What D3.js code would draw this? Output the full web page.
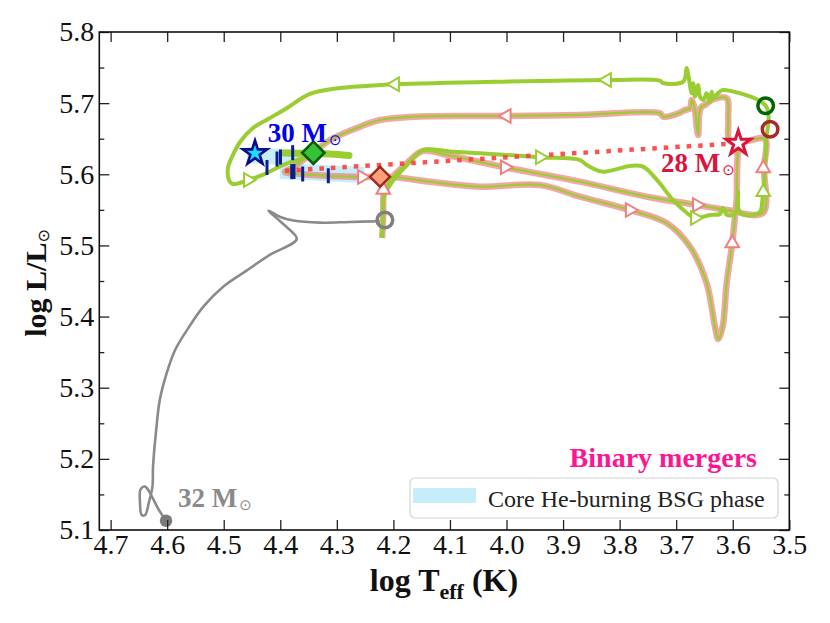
<!DOCTYPE html>
<html>
<head>
<meta charset="utf-8">
<script src="https://cdn.jsdelivr.net/npm/d3@7"></script>
<style>
  body { margin: 0; background: #fff; }
  text { font-family: "Liberation Serif", "DejaVu Serif", serif; }
</style>
</head>
<body>
<svg id="chart"></svg>
<script>
// ---- data (log Teff, log L) ----
var xTicks = [4.7, 4.6, 4.5, 4.4, 4.3, 4.2, 4.1, 4.0, 3.9, 3.8, 3.7, 3.6, 3.5]
var yTicks = [5.1, 5.2, 5.3, 5.4, 5.5, 5.6, 5.7, 5.8]
var yMinorTicks = [5.15, 5.25, 5.35, 5.45, 5.55, 5.65, 5.75]

// primary, 32 Msun, up to the merger
var greyTrack = [[4.602,5.113],[4.616,5.130],[4.627,5.147],[4.639,5.161],[4.647,5.157],[4.648,5.138],
  [4.645,5.121],[4.639,5.121],[4.632,5.140],[4.626,5.161],[4.625,5.189],[4.620,5.236],[4.613,5.283],
  [4.601,5.320],[4.586,5.353],[4.565,5.381],[4.536,5.414],[4.501,5.442],[4.459,5.465],[4.418,5.487],
  [4.371,5.509],[4.389,5.526],[4.406,5.538],[4.421,5.549],[4.400,5.540],[4.377,5.535],[4.330,5.532],
  [4.277,5.533],[4.224,5.534]]

// merger product, 30 Msun
var greenTrack = [[4.220,5.5105],[4.218,5.5428],[4.217,5.568],[4.2025,5.589],[4.1795,5.610],[4.1477,5.634],
  [4.100,5.632],[4.047,5.6295],[3.9408,5.624],[3.870,5.620],[3.858,5.613],[3.8295,5.6037],[3.782,5.6117],
  [3.7587,5.6107],[3.734,5.592],[3.7057,5.5639],[3.681,5.5456],[3.6668,5.5386],[3.640,5.5428],[3.6226,5.5442],
  [3.6173,5.5526],[3.610,5.5428],[3.5943,5.5456],[3.5908,5.5751],[3.5872,5.5456],[3.5643,5.5428],[3.5519,5.547],
  [3.5466,5.5737],[3.543,5.6061],[3.5413,5.644],[3.5413,5.696],[3.6173,5.7185],[3.6208,5.7175],[3.635,5.7091],
  [3.6373,5.7161],[3.6403,5.7021],[3.6461,5.7139],[3.6521,5.7045],[3.658,5.7091],[3.661,5.7255],[3.6668,5.7091],
  [3.6698,5.7279],[3.6726,5.7139],[3.6786,5.7396],[3.6815,5.7494],[3.6875,5.7302],[3.7234,5.7283],[3.7287,5.7316],
  [3.8224,5.7326],[4.1972,5.7265],[4.2237,5.7255],[4.2944,5.7213],[4.3475,5.7129],[4.3881,5.6932],[4.4182,5.6791],
  [4.4483,5.6651],[4.4712,5.6454],[4.4854,5.6243],[4.4925,5.6089],[4.4907,5.592],[4.4836,5.5864],[4.4571,5.592],
  [4.4359,5.5976],[4.4235,5.6018],[4.3988,5.6117],[4.3758,5.6187],[4.3475,5.6257]]
var greenTrackEnd = [[4.3934,5.630],[4.3475,5.6293],[4.3121,5.6285],[4.2785,5.6264]]
var greenArrows = [[4.4571,5.592,"right"],[4.1972,5.7265,"left"],[3.8224,5.7326,"left"],
  [3.9408,5.624,"right"],[3.6668,5.5386,"right"],[3.546,5.5751,"up"]]

// merger product, 28 Msun
var pinkTrack = [[4.220,5.5105],[4.218,5.5428],[4.2167,5.5751],[4.206,5.592],[4.1795,5.6131],[4.1477,5.6328],
  [4.1053,5.6271],[4.0027,5.6098],[3.870,5.5896],[3.7517,5.5685],[3.6633,5.5569],[3.610,5.5498],[3.5466,5.5456],
  [3.5448,5.6089],[3.543,5.6496],[3.5749,5.6468],[3.6049,5.6468],[3.6079,5.6763],[3.6108,5.7068],[3.6344,5.7054],
  [3.6491,5.6974],[3.655,5.695],[3.6592,5.6858],[3.661,5.6553],[3.6638,5.6669],[3.6668,5.6904],[3.6726,5.7045],
  [3.6756,5.6928],[3.6845,5.6904],[3.6933,5.6866],[3.7228,5.681],[3.7287,5.6858],[3.870,5.6834],[3.9997,5.682],
  [4.1648,5.681],[4.2237,5.6763],[4.2591,5.6669],[4.3121,5.6482],[4.3356,5.6342],[4.3593,5.6201],[4.3798,5.6084],
  [4.3917,5.6032],[4.3652,5.6004],[4.3121,5.5976],[4.2555,5.5962],[4.2237,5.5962],[4.2007,5.5962],[4.1353,5.5896],
  [4.047,5.5826],[3.9408,5.585],[3.870,5.5685],[3.782,5.5498],[3.7163,5.5311],[3.6756,5.4982],[3.6461,5.4468],
  [3.6314,5.3858],[3.6256,5.3681],[3.6178,5.3858],[3.6108,5.4468],[3.6009,5.503],[3.5961,5.5404],[3.5931,5.5639],
  [3.5925,5.6061],[3.5902,5.6436]]
var pinkArrows = [[4.2179,5.578,"up"],[4.0027,5.6098,"right"],[3.6633,5.5569,"right"],[3.546,5.6085,"up"],
  [3.9997,5.682,"left"],[4.2555,5.5962,"right"],[3.782,5.5498,"right"],[3.6009,5.503,"up"]]

// core He-burning BSG phase segments
var bsgUpper = [[4.4589,5.6271],[4.3652,5.6229]]
var bsgLower = [[4.4005,5.6046],[4.252,5.599]]

// observed BSGs (vertical bars)
var observedBSG = [[4.4235,5.6096],[4.4058,5.6215],[4.3996,5.6243],[4.3781,5.6304],
  [4.3798,5.6037],[4.3758,5.6039],[4.3604,5.6004],[4.3151,5.5979]]

var dottedLink = [[4.3917,5.605],[3.5902,5.6436]]

var cyanStar = [4.4447, 5.6295]
var redStar = [3.5902, 5.6436]
var greenDiamond = [4.3416, 5.6304]
var orangeDiamond = [4.2237, 5.5966]
var greyStart = [4.602, 5.113]
var greyEnd = [4.215, 5.5358]
var greenEnd = [3.5418, 5.6964]
var pinkEnd = [3.534, 5.6633]

// ---- chart ----
var width = 830, height = 623
var svg = d3.select("#chart").attr("width", width).attr("height", height)

var x = d3.scaleLinear().domain([4.72, 3.5]).range([99.3, 789.3])
var y = d3.scaleLinear().domain([5.1, 5.8]).range([530, 32])

var line = d3.line().x(d => x(d[0])).y(d => y(d[1])).curve(d3.curveCatmullRom.alpha(0.5))
var straight = d3.line().x(d => x(d[0])).y(d => y(d[1]))

// BSG bands underneath
;[bsgUpper, bsgLower].forEach(function(seg){
  svg.append("path").attr("d", straight(seg))
     .attr("fill", "none").attr("stroke", "#c6eefa").attr("stroke-width", 16)
})

svg.append("path").attr("d", line(greyTrack))
   .attr("fill", "none").attr("stroke", "#8a8a8a").attr("stroke-width", 2.6)
   .attr("stroke-linejoin", "round")

svg.append("path").attr("d", line(pinkTrack))
   .attr("fill", "none").attr("stroke", "#f08080").attr("stroke-opacity", 0.7)
   .attr("stroke-width", 6.5).attr("stroke-linejoin", "round")
svg.append("path").attr("d", line(pinkTrack))
   .attr("fill", "none").attr("stroke", "#9acd32").attr("stroke-width", 2.2)
   .attr("stroke-linejoin", "round")

svg.append("path").attr("d", line(greenTrack))
   .attr("fill", "none").attr("stroke", "#9acd32").attr("stroke-width", 4)
   .attr("stroke-linejoin", "round")
svg.append("path").attr("d", line(greenTrackEnd))
   .attr("fill", "none").attr("stroke", "#9acd32").attr("stroke-width", 7)
   .attr("stroke-linecap", "round")

svg.append("path").attr("d", straight(dottedLink))
   .attr("fill", "none").attr("stroke", "#ff3d3d").attr("stroke-opacity", 0.9)
   .attr("stroke-width", 4.5).attr("stroke-dasharray", "4.5,7")

svg.selectAll(".bsg").data(observedBSG).enter().append("line")
   .attr("x1", d => x(d[0])).attr("x2", d => x(d[0]))
   .attr("y1", d => y(d[1]) - 7.5).attr("y2", d => y(d[1]) + 7.5)
   .attr("stroke", "#0b1f8c").attr("stroke-width", 3)

// direction triangles
var rot = {up: 0, right: 90, left: -90}
var tri = d3.symbol().type(d3.symbolTriangle).size(80)
function arrows(data, color){
  svg.append("g").selectAll("path").data(data).enter().append("path")
     .attr("d", tri)
     .attr("transform", d => `translate(${x(d[0])},${y(d[1])}) rotate(${rot[d[2]]})`)
     .attr("fill", "#fff").attr("stroke", color).attr("stroke-width", 2)
}
arrows(pinkArrows, "#f08080")
arrows(greenArrows, "#9acd32")

// end / start circles
;[[greyEnd, "#808080"], [greenEnd, "#006400"], [pinkEnd, "#a52a2a"]].forEach(function(c){
  svg.append("circle").attr("cx", x(c[0][0])).attr("cy", y(c[0][1])).attr("r", 7.8)
     .attr("fill", "none").attr("stroke", c[1]).attr("stroke-width", 3.5)
})
svg.append("circle").attr("cx", x(greyStart[0])).attr("cy", y(greyStart[1])).attr("r", 6.2)
   .attr("fill", "#7a7a7a")

// stars and diamonds
var star = d3.symbol().type(d3.symbolStar).size(185)
svg.append("path").attr("d", star).attr("transform", `translate(${x(cyanStar[0])},${y(cyanStar[1])})`)
   .attr("fill", "#16e0ff").attr("stroke", "#0a0a8c").attr("stroke-width", 2.6)
svg.append("path").attr("d", star).attr("transform", `translate(${x(redStar[0])},${y(redStar[1])})`)
   .attr("fill", "#fff").attr("stroke", "#dc143c").attr("stroke-width", 3)

var sq = d3.symbol().type(d3.symbolSquare)
svg.append("path").attr("d", sq.size(250)())
   .attr("transform", `translate(${x(greenDiamond[0])},${y(greenDiamond[1])}) rotate(45)`)
   .attr("fill", "#36c236").attr("stroke", "#0b5d0b").attr("stroke-width", 2.6)
svg.append("path").attr("d", sq.size(200)())
   .attr("transform", `translate(${x(orangeDiamond[0])},${y(orangeDiamond[1])}) rotate(45)`)
   .attr("fill", "#ffa07a").attr("stroke", "#9c2a1e").attr("stroke-width", 2.4)

// ---- axes ----
function styleAxis(g){
  g.select(".domain").remove()
  g.selectAll("line").attr("stroke", "#222").attr("stroke-width", 1.3)
  g.selectAll("text").attr("font-family", "Liberation Serif, serif").attr("font-size", 28).attr("fill", "#111")
}
var fmt = d3.format(".1f")
svg.append("g").attr("transform", "translate(0,530)")
   .call(d3.axisBottom(x).tickValues(xTicks).tickSize(-10).tickPadding(4).tickFormat(fmt)).call(styleAxis)
svg.append("g").attr("transform", "translate(0,32)")
   .call(d3.axisTop(x).tickValues(xTicks).tickSize(-10).tickFormat("")).call(styleAxis)
svg.append("g").attr("transform", "translate(99.3,0)")
   .call(d3.axisLeft(y).tickValues(yTicks).tickSize(-10).tickPadding(5).tickFormat(fmt)).call(styleAxis)
svg.append("g").attr("transform", "translate(99.3,0)")
   .call(d3.axisLeft(y).tickValues(yMinorTicks).tickSize(-5).tickFormat("")).call(styleAxis)
svg.append("g").attr("transform", "translate(789.3,0)")
   .call(d3.axisRight(y).tickValues(yTicks).tickSize(-10).tickFormat("")).call(styleAxis)
svg.append("g").attr("transform", "translate(789.3,0)")
   .call(d3.axisRight(y).tickValues(yMinorTicks).tickSize(-5).tickFormat("")).call(styleAxis)

svg.append("rect").attr("x", 99.3).attr("y", 32).attr("width", 690).attr("height", 498)
   .attr("fill", "none").attr("stroke", "#111").attr("stroke-width", 1.6)

// axis titles
var xt = svg.append("text").attr("x", 444).attr("y", 591).attr("text-anchor", "middle")
   .attr("font-size", 32).attr("font-weight", "bold").attr("fill", "#111")
xt.append("tspan").text("log T")
xt.append("tspan").attr("font-size", 22).attr("dy", 8).text("eff")
xt.append("tspan").attr("dy", -8).text(" (K)")

var yt = svg.append("text").attr("transform", "translate(46,283) rotate(-90)").attr("text-anchor", "middle")
   .attr("font-size", 30).attr("font-weight", "bold").attr("fill", "#111")
yt.append("tspan").text("log L/L")
yt.append("tspan").attr("font-family", "DejaVu Sans").attr("font-weight", "normal")
   .attr("font-size", 16).attr("dy", 3).text("\u2299")

// mass labels
function massLabel(txt, px, py, color){
  var t = svg.append("text").attr("x", px).attr("y", py)
     .attr("font-size", 27).attr("font-weight", "bold").attr("fill", color)
  t.append("tspan").text(txt)
  t.append("tspan").attr("font-family", "DejaVu Sans").attr("font-weight", "normal")
     .attr("font-size", 15).attr("dx", 2).attr("dy", 3).text("\u2299")
}
massLabel("30 M", x(4.422), y(5.6458), "#0000f0")
massLabel("28 M", x(3.727), y(5.6037), "#dc143c")
massLabel("32 M", x(4.581), y(5.1328), "#8a8a8a")

svg.append("text").attr("x", 757).attr("y", 467).attr("text-anchor", "end")
   .attr("font-size", 28).attr("font-weight", "bold").attr("fill", "#ff1493").text("Binary mergers")

// legend
var lg = svg.append("g").attr("transform", "translate(410,478)")
lg.append("rect").attr("width", 368).attr("height", 40).attr("rx", 5)
   .attr("fill", "#fff").attr("fill-opacity", 0.85).attr("stroke", "#d4d4d4").attr("stroke-width", 1.2)
lg.append("rect").attr("x", 3).attr("y", 10).attr("width", 63).attr("height", 15).attr("fill", "#c6eefa")
lg.append("text").attr("x", 78).attr("y", 29).attr("font-size", 24).attr("fill", "#222")
   .text("Core He-burning BSG phase")
</script>
</body>
</html>
